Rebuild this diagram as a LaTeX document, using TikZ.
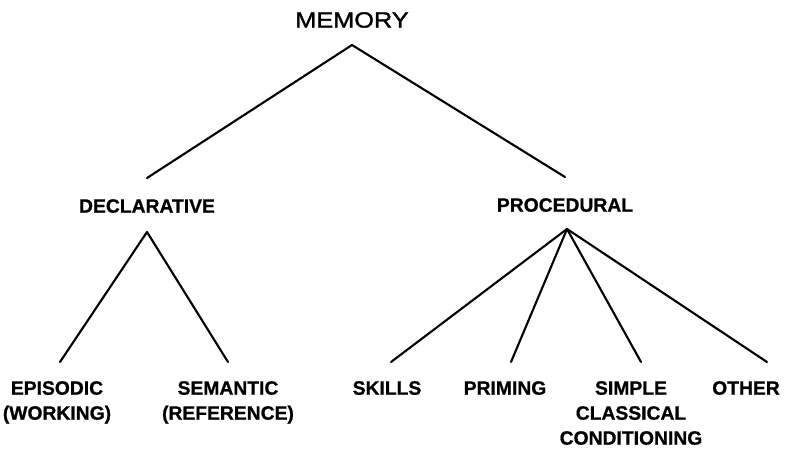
\documentclass[tikz,border=0pt]{standalone}
\usepackage{fontspec}
\setmainfont{Liberation Sans}
\newfontfamily\lblfont[FakeBold=0.8]{Liberation Sans}
\newfontfamily\memfont[FakeStretch=1.15,FakeBold=1.5]{Liberation Sans}
\begin{document}
\begin{tikzpicture}[x=1pt,y=-1pt,
  lbl/.style={font=\lblfont\bfseries\fontsize{19.3}{25}\selectfont,inner sep=0pt,anchor=north,align=center},
  memlbl/.style={font=\memfont\fontsize{22}{25}\selectfont,inner sep=0pt,anchor=north},
  branch/.style={line width=2.1pt,line cap=round,line join=round}]
\useasboundingbox (0,0) rectangle (800,457);
\node[memlbl] (mem) at (352,12) {MEMORY};
\node[lbl] (dec) at (147,199) {DECLARATIVE};
\node[lbl] (proc) at (565,198) {PROCEDURAL};
\node[lbl] (epi) at (57,381) {EPISODIC\\(WORKING)};
\node[lbl] (sem) at (228,381) {SEMANTIC\\(REFERENCE)};
\node[lbl] (ski) at (387,381) {SKILLS};
\node[lbl] (pri) at (505,381) {PRIMING};
\node[lbl] (sim) at (631,381) {SIMPLE\\CLASSICAL\\CONDITIONING};
\node[lbl] (oth) at (746,381) {OTHER};
% apexes and ends
\coordinate (memA) at (352,45);
\coordinate (decE) at (147,178);
\coordinate (procE) at (565,177);
\coordinate (decA) at (147,232);
\coordinate (procA) at (567,229);
\coordinate (epiE) at (60,362);
\coordinate (semE) at (228,362);
\coordinate (skiE) at (391,362);
\coordinate (priE) at (511,362);
\coordinate (simE) at (641,362);
\coordinate (othE) at (767,362);
\draw[branch] (decE) -- (memA) -- (procE);
\draw[branch] (epiE) -- (decA) -- (semE);
\draw[branch] (procA) -- (skiE);
\draw[branch] (procA) -- (priE);
\draw[branch] (procA) -- (simE);
\draw[branch] (procA) -- (othE);
\end{tikzpicture}
\end{document}
